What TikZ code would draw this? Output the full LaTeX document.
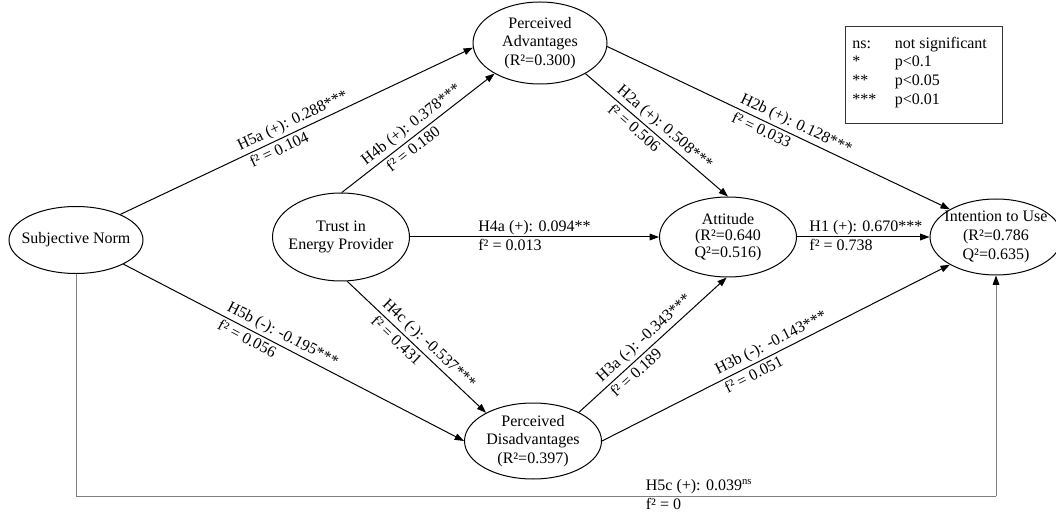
\documentclass[tikz,border=0pt]{standalone}
\usepackage{fontspec}
\setmainfont{Liberation Serif}
\usetikzlibrary{arrows.meta,shapes.geometric}
\begin{document}
\begin{tikzpicture}[x=0.75pt,y=-0.75pt,
  every node/.style={font=\fontsize{12}{14}\selectfont},
  construct/.style={draw, ellipse, line width=0.75pt, inner sep=0pt},
  path/.style={line width=0.75pt, -{Triangle[length=7pt,width=5pt]}},
  hi/.style={sloped, anchor=south west, inner sep=2pt, text=black},
  lo/.style={sloped, anchor=north west, inner sep=2pt, text=black},
  ctext/.style={align=center},
]
\useasboundingbox (0,0) rectangle (1056,516);

% constructs
\node[construct, minimum width=100.5pt, minimum height=50.25pt,
  label={[ctext]center:Subjective Norm}] (sn) at (76,240) {};
\node[construct, minimum width=102.75pt, minimum height=66pt,
  label={[ctext]center:{Trust in\\Energy Provider}}] (tep) at (341,237) {};
\node[construct, minimum width=100.5pt, minimum height=61.5pt,
  label={[ctext]center:{Perceived\\Advantages\\(R²=0.300)}}] (pa) at (540,43) {};
\node[construct, minimum width=102.75pt, minimum height=60pt,
  label={[ctext, font=\fontsize{12}{12.5}\selectfont]center:{Attitude\\(R²=0.640\\Q²=0.516)}}] (att) at (728,237) {};
\node[construct, minimum width=99pt, minimum height=57pt,
  label={[ctext]center:{Intention to Use\\(R²=0.786\\Q²=0.635)}}] (itu) at (996,237) {};
\node[construct, minimum width=102.75pt, minimum height=57pt,
  label={[ctext]center:{Perceived\\Disadvantages\\(R²=0.397)}}] (pd) at (533,441) {};

% structural paths
\draw[path] (sn.30) -- (pa.184)
  node[hi, pos=.34] {H5a (+): 0.288***}
  node[lo, pos=.35] {f² = 0.104};
\draw[path] (tep.89) -- (pa.214)
  node[hi, pos=.17] {H4b (+): 0.378***}
  node[lo, pos=.25] {f² = 0.180};
\draw[path] (sn.-27) -- (pd.west)
  node[hi, pos=.285] {H5b (-): -0.195***}
  node[lo, pos=.285] {f² = 0.056};
\draw[path] (tep.278) -- (pd.149)
  node[hi, pos=.2] {H4c (-): -0.537***}
  node[lo, pos=.22] {f² = 0.431};
\draw[path] (tep) -- (att)
  node[hi, pos=.262, sloped=false, inner ysep=1pt] {H4a (+): 0.094**}
  node[lo, pos=.262, sloped=false, inner ysep=1pt] {f² = 0.013};
\draw[path] (pa.-34) -- (att.north)
  node[hi, pos=.17] {H2a (+): 0.508***}
  node[lo, pos=.2] {f² = 0.506};
\draw[path] (pa.-3) -- (itu.149)
  node[hi, pos=.37] {H2b (+): 0.128***}
  node[lo, pos=.37] {f² = 0.033};
\draw[path] (att) -- (itu)
  node[hi, pos=.07, inner ysep=1pt] {H1 (+): 0.670***}
  node[lo, pos=.07, inner ysep=1pt] {f² = 0.738};
\draw[path] (pd.32) -- (att.268)
  node[hi, pos=.17] {H3a (-): -0.343***}
  node[lo, pos=.17] {f² = 0.189};
\draw[path] (pd.east) -- (itu.211)
  node[hi, pos=.335] {H3b (-): -0.143***}
  node[lo, pos=.335] {f² = 0.051};

% direct path from subjective norm to intention, routed below
\coordinate (c1) at (76,496);
\coordinate (c2) at (996,496);
\draw[line width=0.75pt, gray] (sn.south) -- (c1) -- (c2)
  node[hi, pos=.616, inner ysep=1pt] {H5c (+): 0.039\textsuperscript{ns}}
  node[lo, pos=.616, inner ysep=1pt] {f² = 0};
\draw[path, gray, -{Triangle[length=7pt,width=5pt,black]}] (c2) -- (itu.south);

% significance legend
\node[draw=black!80, line width=1pt, minimum width=117.75pt, minimum height=72.75pt,
  anchor=north west, inner sep=0pt] (legend) at (845,26) {};
\node[anchor=north west, inner sep=0pt, align=left] (legtext) at (852,35)
  {\begin{tabular}{@{}p{32pt}@{}l@{}}
   ns: & not significant\\
   {*} & p<0.1\\
   {**} & p<0.05\\
   {***} & p<0.01
  \end{tabular}};
\end{tikzpicture}
\end{document}
